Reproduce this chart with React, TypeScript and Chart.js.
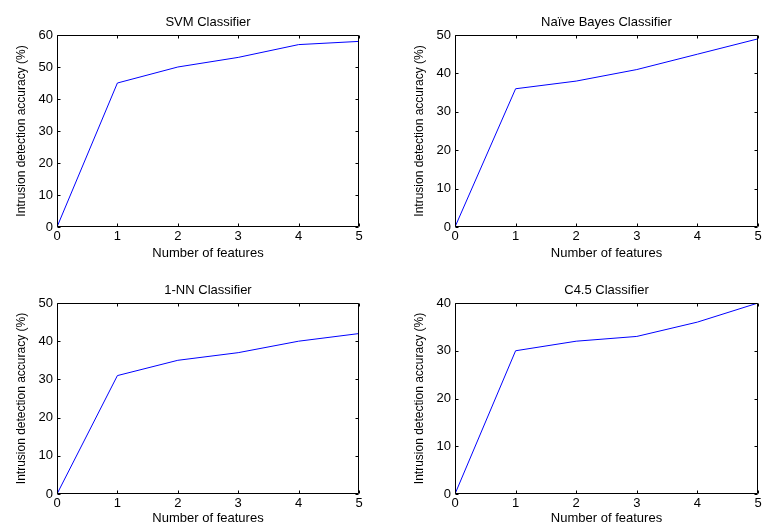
import React, { useEffect, useRef } from "react";
import { Chart, registerables } from "chart.js";

Chart.register(...registerables);

const features = [0, 1, 2, 3, 4, 5];
const svmAccuracy = [0, 45, 50, 53, 57, 58];
const naiveBayesAccuracy = [0, 36, 38, 41, 45, 49];
const oneNNAccuracy = [0, 31, 35, 37, 40, 42];
const c45Accuracy = [0, 30, 32, 33, 36, 40];

const panelTitles = ["SVM Classifier", "Naïve Bayes Classifier", "1-NN Classifier", "C4.5 Classifier"];
const panelValues = [svmAccuracy, naiveBayesAccuracy, oneNNAccuracy, c45Accuracy];
const panelYMax = [60, 50, 50, 40];
const xAxisTitle = "Number of features";
const yAxisTitle = "Intrusion detection accuracy (%)";

const FONT = "'Liberation Sans', Arial, Helvetica, sans-serif";

const boxTicks = {
  id: "boxTicks",
  afterDraw(chart: any) {
    const { ctx, chartArea, scales } = chart;
    const { left, right, top, bottom } = chartArea;
    const xs = scales.x;
    const ys = scales.y;
    const L = Math.round(left) + 0.5;
    const R = Math.round(right) - 0.5;
    const T = Math.round(top) + 0.5;
    const B = Math.round(bottom) - 0.5;
    const tl = 3;
    ctx.save();
    ctx.strokeStyle = "#000";
    ctx.lineWidth = 1;
    ctx.beginPath();
    ctx.rect(L, T, R - L, B - T);
    xs.ticks.forEach((t: any) => {
      const px = Math.round(xs.getPixelForValue(t.value)) + 0.5;
      ctx.moveTo(px, B);
      ctx.lineTo(px, B - tl);
      ctx.moveTo(px, T);
      ctx.lineTo(px, T + tl);
    });
    ys.ticks.forEach((t: any) => {
      const py = Math.round(ys.getPixelForValue(t.value)) + 0.5;
      ctx.moveTo(L, py);
      ctx.lineTo(L + tl, py);
      ctx.moveTo(R, py);
      ctx.lineTo(R - tl, py);
    });
    ctx.stroke();
    ctx.restore();
  },
};

type PanelProps = {
  idx: number;
  left: number;
  top: number;
  width: number;
  height: number;
  padLeft: number;
  padRight: number;
  titlePadTop: number;
  titlePadBottom: number;
  xAxisHeight: number;
  xTitlePadBottom: number;
};

function Panel(p: PanelProps) {
  const ref = useRef<HTMLCanvasElement | null>(null);
  useEffect(() => {
    if (!ref.current) return;
    const values = panelValues[p.idx];
    const chart = new Chart(ref.current, {
      type: "line",
      data: {
        datasets: [
          {
            data: features.map((f, i) => ({ x: f, y: values[i] })),
            borderColor: "#0000ff",
            borderWidth: 1,
            pointRadius: 0,
            tension: 0,
            fill: false,
          },
        ],
      },
      plugins: [boxTicks],
      options: {
        animation: false,
        responsive: false,
        devicePixelRatio: 1,
        layout: { padding: { left: p.padLeft, right: p.padRight, top: 0, bottom: 0 } },
        plugins: {
          legend: { display: false },
          tooltip: { enabled: false },
          title: {
            display: true,
            text: panelTitles[p.idx],
            color: "#000",
            fullSize: false,
            font: { family: FONT, size: 13, weight: "normal" as any },
            padding: { top: p.titlePadTop, bottom: p.titlePadBottom },
          },
        },
        scales: {
          x: {
            type: "linear",
            min: 0,
            max: 5,
            grid: { display: false, drawTicks: false },
            border: { display: false },
            ticks: {
              stepSize: 1,
              padding: 2,
              color: "#000",
              maxRotation: 0,
              font: { family: FONT, size: 13 },
            },
            title: {
              display: true,
              text: xAxisTitle,
              color: "#000",
              font: { family: FONT, size: 13 },
              padding: { top: 0, bottom: p.xTitlePadBottom },
            },
            afterFit: (s: any) => {
              s.height = p.xAxisHeight;
            },
          },
          y: {
            type: "linear",
            min: 0,
            max: panelYMax[p.idx],
            grid: { display: false, drawTicks: false },
            border: { display: false },
            ticks: {
              stepSize: 10,
              padding: 4,
              color: "#000",
              font: { family: FONT, size: 13 },
            },
            title: {
              display: true,
              text: yAxisTitle,
              color: "#000",
              font: { family: FONT, size: 12 },
              padding: { top: 14.8, bottom: 0 },
            },
            afterFit: (s: any) => {
              s.width = 57;
            },
          },
        },
      },
    });
    return () => chart.destroy();
  }, []);
  return (
    <canvas
      ref={ref}
      width={p.width}
      height={p.height}
      style={{ position: "absolute", left: p.left, top: p.top, width: p.width, height: p.height }}
    />
  );
}

export default function App() {
  return (
    <div
      style={{
        position: "fixed",
        left: 0,
        top: 0,
        width: 766,
        height: 527,
        background: "#fff",
        overflow: "hidden",
      }}
    >
      <Panel idx={0} left={0} top={0} width={383} height={263} padLeft={0} padRight={24}
        titlePadTop={14.2} titlePadBottom={5.2} xAxisHeight={36} xTitlePadBottom={2.2} />
      <Panel idx={1} left={383} top={0} width={383} height={263} padLeft={15} padRight={8}
        titlePadTop={14.2} titlePadBottom={5.2} xAxisHeight={36} xTitlePadBottom={2.2} />
      <Panel idx={2} left={0} top={263} width={383} height={264} padLeft={0} padRight={24}
        titlePadTop={19.2} titlePadBottom={5.2} xAxisHeight={33} xTitlePadBottom={1.2} />
      <Panel idx={3} left={383} top={263} width={383} height={264} padLeft={15} padRight={8}
        titlePadTop={19.2} titlePadBottom={5.2} xAxisHeight={33} xTitlePadBottom={1.2} />
    </div>
  );
}
